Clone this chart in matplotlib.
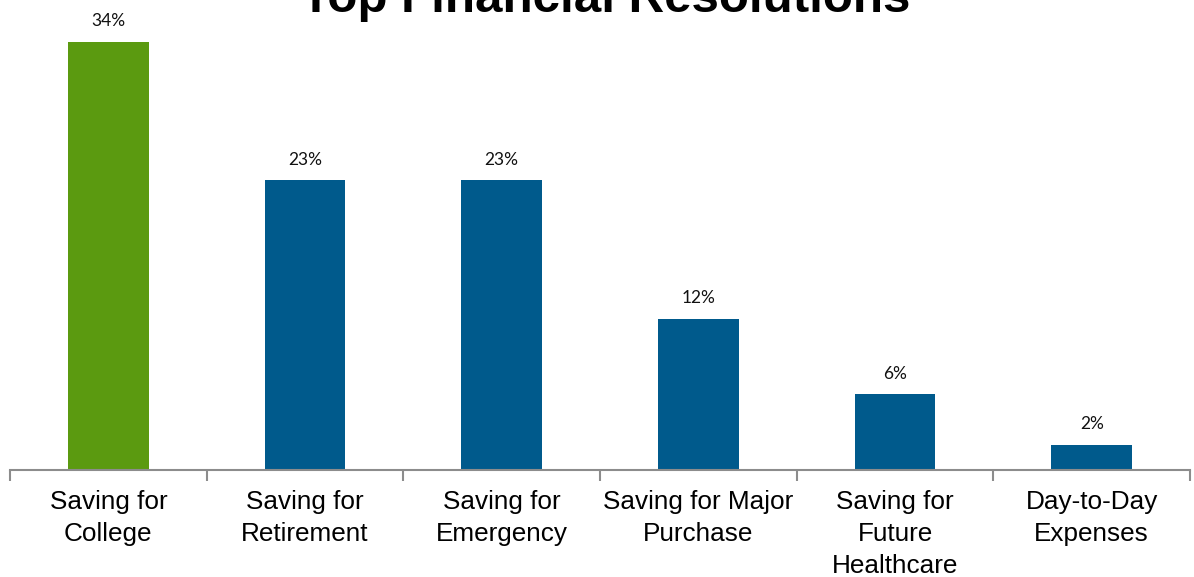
import numpy as np
import matplotlib.pyplot as plt

# resolution categories and share of respondents (%)
categories = ["Saving for\nCollege", "Saving for\nRetirement", "Saving for\nEmergency",
              "Saving for Major\nPurchase", "Saving for\nFuture\nHealthcare", "Day-to-Day\nExpenses"]
shares = [34, 23, 23, 12, 6, 2]
bar_colors = ["#5B9A10", "#005A8C", "#005A8C", "#005A8C", "#005A8C", "#005A8C"]

W, H = 1194, 577
fig = plt.figure(figsize=(W / 100, H / 100), dpi=100)
ax = fig.add_axes([10 / W, 107 / H, 1180 / W, 470 / H])

x = np.arange(len(categories))
bars = ax.bar(x, shares, width=0.41, color=bar_colors)

for xi, v in zip(x, shares):
    ax.annotate(f"{v}%", (xi, v), xytext=(0, 9), textcoords="offset points",
                ha="center", va="bottom", fontsize=12.5, family="Lato", color="#111111")

ax.set_xlim(-0.5, len(categories) - 0.5)
ax.set_ylim(0, 37.33)

for s in ["top", "right", "left"]:
    ax.spines[s].set_visible(False)
ax.spines["bottom"].set_color("#8c8c8c")
ax.spines["bottom"].set_linewidth(1.5)
ax.set_yticks([])

# boundary ticks between categories, labels centred on bars
ax.set_xticks(np.arange(-0.5, len(categories)), minor=False)
ax.set_xticklabels([])
ax.tick_params(axis="x", length=8, width=1.5, color="#8c8c8c", direction="out")
for xi, lab in zip(x, categories):
    ax.text(xi, -1.6, lab, ha="center", va="top", fontsize=18.8,
            family="Liberation Sans", linespacing=1.42)

fig.text(0.507, 1 - 12 / H, "Top Financial Resolutions", ha="center", va="baseline",
         fontsize=35.5, fontweight="bold", family="Liberation Sans")

fig.savefig("out.png", dpi=100)
